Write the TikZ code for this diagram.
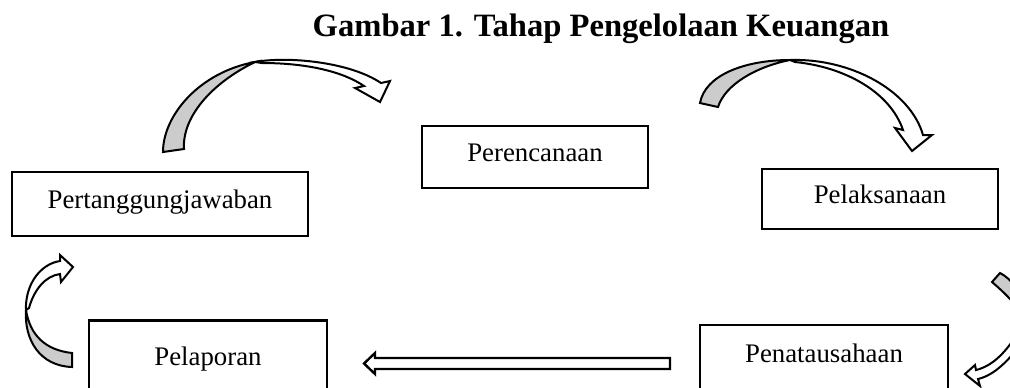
\documentclass[tikz,border=0pt]{standalone}
\usepackage{fontspec}
\setmainfont{Liberation Serif}
\begin{document}
\begin{tikzpicture}[x=0.5pt,y=-0.5pt,
  stage/.style={draw=black,line width=1.3pt,fill=white,inner sep=0pt,
    text height=9pt,text depth=4.5pt,font=\fontsize{13.4}{16}\selectfont},
  blockarrow/.style={draw=black,line width=1pt,line join=miter,fill=white},
  backface/.style={draw=black,line width=1pt,fill=black!20}]
\useasboundingbox (0,0) rectangle (1010,387);
\clip (0,0) rectangle (1010,387);
% title
\node[anchor=base,font=\bfseries\fontsize{16.3}{20}\selectfont] (title) at (601,36) {Gambar 1. Tahap Pengelolaan Keuangan};
% boxes
\node[stage,minimum width=148pt,minimum height=32pt] (pert) at (160,204) {Pertanggungjawaban};
\node[stage,minimum width=113pt,minimum height=31pt] (peren) at (535,157) {Perencanaan};
\node[stage,minimum width=118pt,minimum height=30pt] (pelak) at (880,199) {Pelaksanaan};
\node[stage,minimum width=119pt,minimum height=40pt] (pelap) at (208,360.5) {Pelaporan};
\node[stage,minimum width=124pt,minimum height=33pt] (penat) at (824,358) {Penatausahaan};
% arrow 1: Pertanggungjawaban -> Perencanaan
\draw[backface] (163,152) .. controls (163,115) and (200,72) .. (255,62)
  .. controls (210,84) and (182,118) .. (184,149) -- cycle;
\draw[blockarrow] (255,62) .. controls (288,56) and (350,62) .. (381,83)
  -- (390,81) -- (380,102) -- (355,88) -- (364,86)
  .. controls (342,71) and (305,63) .. (262,63) -- cycle;
% arrow 2: Perencanaan -> Pelaksanaan
\draw[backface] (700,103) .. controls (705,75) and (745,60) .. (790,60)
  .. controls (755,67) and (725,85) .. (718,107) -- cycle;
\draw[blockarrow] (790,60) .. controls (850,58) and (910,90) .. (923,135)
  -- (932,135) -- (912,151) -- (895,128) -- (903,130)
  .. controls (890,92) and (845,67) .. (795,62) -- cycle;
% arrow 3: Pelaporan -> Pertanggungjawaban
\draw[backface] (72,367) .. controls (40,366) and (24,340) .. (26,310)
  .. controls (30,335) and (45,350) .. (72,353) -- cycle;
\draw[blockarrow] (26,310) .. controls (25,285) and (40,264) .. (60,261)
  -- (60,255) -- (73,267) -- (61,282) -- (60,274)
  .. controls (45,276) and (34,290) .. (29,308) -- cycle;
% arrow 4: Pelaksanaan -> Penatausahaan
\draw[backface] (992,282) -- (1000,273) .. controls (1006,276) and (1011,281) .. (1016,287)
  -- (1016,306) .. controls (1008,296) and (1000,289) .. (992,282) -- cycle;
\draw[blockarrow] (1016,336) .. controls (1004,354) and (992,366) .. (976,370)
  -- (975,365) -- (965,374) -- (980,386) -- (978,379)
  .. controls (995,375) and (1008,360) .. (1020,346) -- cycle;
% arrow 5: Penatausahaan -> Pelaporan
\coordinate (a5s) at (670,363.5);
\coordinate (a5e) at (364,363.5);
\draw[blockarrow,line width=1.2pt] (a5e) -- ++(11,-10.5) -- ++(0,5) -- (a5s |- 0,358)
  -- (a5s |- 0,369) -- ([xshift=5.5pt]a5e |- 0,369) -- ++(0,5) -- cycle;
\end{tikzpicture}
\end{document}
